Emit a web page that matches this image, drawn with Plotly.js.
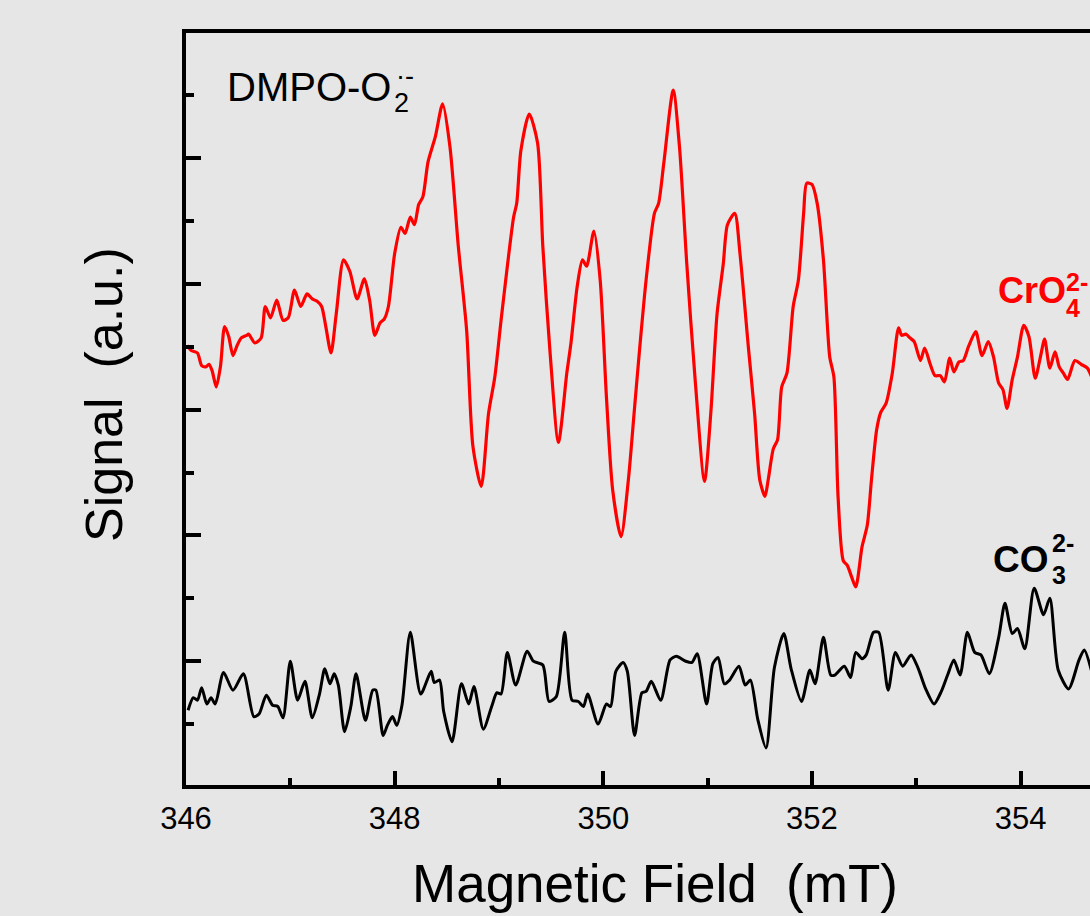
<!DOCTYPE html>
<html>
<head>
<meta charset="utf-8">
<script src="https://cdn.plot.ly/plotly-3.0.1.min.js"></script>
<style>
html,body{margin:0;padding:0;background:#e6e6e6;}
#chart{width:1090px;height:916px;}
</style>
</head>
<body>
<div id="chart"></div>
<script>
// Magnetic field (mT) and signal (a.u.)
const redX = [346.01,346.05,346.11,346.15,346.19,346.22,346.25,346.29,346.33,346.37,346.41,346.45,346.49,346.53,346.58,346.60,346.66,346.72,346.76,346.81,346.87,346.93,346.98,347.04,347.10,347.16,347.21,347.26,347.30,347.34,347.39,347.44,347.51,347.57,347.64,347.71,347.76,347.81,347.86,347.90,347.94,348.00,348.06,348.10,348.15,348.19,348.23,348.27,348.32,348.39,348.46,348.53,348.61,348.69,348.75,348.83,
348.90,348.96,349.02,349.14,349.17,349.21,349.29,349.37,349.42,349.49,349.57,349.65,349.69,349.75,349.80,349.84,349.91,349.97,350.03,350.09,350.17,350.24,350.30,350.35,350.41,350.49,350.53,350.58,350.67,350.73,350.80,350.88,350.97,351.03,351.09,351.15,351.19,351.26,351.31,351.39,351.45,351.50,351.55,
351.58,351.63,351.67,351.71,351.76,351.82,351.87,351.92,351.95,352.00,352.05,352.11,352.17,352.21,352.25,352.30,352.34,352.38,352.42,352.48,352.53,352.57,352.62,352.66,352.71,352.77,352.83,352.86,352.90,352.94,352.98,353.04,353.08,353.13,353.18,353.23,353.27,353.32,353.36,353.41,353.45,353.50,353.57,353.63,353.69,353.74,353.79,353.83,353.87,353.92,353.97,354.03,354.08,354.14,354.19,354.23,354.28,354.33,354.37,354.41,354.45,354.52,354.58,354.64,354.69];
const redY = [3.51,3.47,3.45,3.35,3.34,3.36,3.31,3.18,3.34,3.66,3.58,3.43,3.51,3.57,3.59,3.60,3.53,3.57,3.82,3.73,3.87,3.71,3.73,3.95,3.82,3.92,3.88,3.86,3.82,3.66,3.45,3.76,4.19,4.10,3.88,4.04,3.87,3.59,3.69,3.72,3.82,4.24,4.45,4.40,4.53,4.47,4.63,4.69,4.97,5.17,5.43,5.09,4.30,3.63,2.71,2.39,
2.97,3.26,3.71,4.53,4.64,5.06,5.35,5.12,4.30,3.45,2.74,3.29,3.53,3.98,4.19,4.14,4.42,4.03,3.10,2.36,1.99,2.44,3.02,3.50,4.03,4.56,4.64,4.96,5.54,5.09,4.16,3.24,2.43,2.97,3.76,4.16,4.47,4.56,4.24,3.50,2.97,2.44,2.31,
2.44,2.69,2.76,3.18,3.29,3.82,4.03,4.56,4.80,4.79,4.64,4.19,3.42,3.26,2.31,1.80,1.76,1.67,1.59,1.91,2.08,2.44,2.84,2.98,3.05,3.29,3.65,3.59,3.60,3.57,3.54,3.39,3.49,3.37,3.27,3.27,3.22,3.41,3.30,3.38,3.39,3.50,3.62,3.43,3.54,3.42,3.21,3.16,3.01,3.24,3.42,3.67,3.58,3.25,3.42,3.56,3.33,3.46,3.34,3.29,3.24,3.39,3.36,3.33,3.24];

const blackX = [346.02,346.07,346.11,346.15,346.20,346.24,346.28,346.36,346.45,346.55,346.65,346.70,346.77,346.83,346.88,346.93,347.00,347.07,347.14,347.21,347.28,347.33,347.38,347.42,347.46,347.52,347.58,347.63,347.72,347.79,347.82,347.89,347.93,347.98,348.02,348.07,348.15,348.25,348.35,348.38,348.43,348.47,348.55,348.64,348.71,348.76,348.85,348.93,348.98,349.02,349.08,349.16,349.27,349.33,349.42,349.48,349.55,349.63,349.70,349.76,349.81,349.85,349.95,350.03,350.07,350.12,350.19,350.23,350.30,350.37,350.41,350.46,350.55,350.64,350.70,350.79,350.85,350.90,350.99,351.05,351.10,351.16,351.21,351.30,351.36,351.41,351.48,351.56,351.64,351.73,351.80,351.90,351.98,352.03,352.11,352.18,352.22,352.31,352.37,352.42,352.48,352.52,352.59,352.64,352.73,352.80,352.87,352.95,353.02,353.09,353.17,353.24,353.30,353.36,353.42,353.49,353.56,353.62,353.70,353.79,353.85,353.92,353.97,354.04,354.13,354.22,354.28,354.36,354.46,354.56,354.61,354.69];
const blackY = [0.61,0.71,0.69,0.79,0.66,0.71,0.66,0.91,0.77,0.90,0.56,0.58,0.73,0.65,0.64,0.55,1.00,0.69,0.84,0.55,0.74,0.94,0.82,0.90,0.81,0.44,0.64,0.90,0.53,0.77,0.77,0.41,0.49,0.56,0.49,0.65,1.23,0.74,0.92,0.83,0.85,0.60,0.36,0.82,0.66,0.80,0.46,0.64,0.75,0.74,1.07,0.81,1.08,1.00,0.97,0.68,0.72,1.23,0.69,0.68,0.64,0.74,0.50,0.66,0.64,0.92,0.99,0.92,0.41,0.75,0.76,0.84,0.69,1.01,1.04,1.00,0.99,1.06,0.66,0.98,1.03,0.82,0.85,0.96,0.81,0.85,0.54,0.31,0.95,1.22,0.94,0.68,0.93,0.82,1.19,0.89,0.89,0.96,0.87,1.07,1.02,1.05,1.23,1.23,0.77,1.07,0.96,1.05,0.94,0.78,0.66,0.76,0.89,1.01,0.89,1.23,1.07,1.05,0.90,1.19,1.46,1.22,1.26,1.10,1.58,1.37,1.50,0.93,0.78,1.01,1.09,0.89];

const xTickVals = [346, 348, 350, 352, 354];
const xTickText = ['346', '348', '350', '352', '354'];

const FONT = 'Liberation Sans, Arial, sans-serif';

const traces = [
  {x: redX, y: redY, type: 'scatter', mode: 'lines', name: 'CrO4',
   line: {color: '#ff0000', width: 3.2, shape: 'spline', smoothing: 0.7}, hoverinfo: 'skip'},
  {x: blackX, y: blackY, type: 'scatter', mode: 'lines', name: 'CO3',
   line: {color: '#000000', width: 3, shape: 'spline', smoothing: 0.7}, hoverinfo: 'skip'}
];

function ann(text, x, y, size, color, bold, xanchor, angle) {
  return {text: text, xref: 'paper', yref: 'paper', x: x, y: y,
    xanchor: xanchor || 'left', yanchor: 'middle', showarrow: false,
    borderpad: 0, borderwidth: 0, textangle: angle || 0,
    font: {family: FONT, size: size, color: color, weight: bold ? 'bold' : 'normal'}};
}

const layout = {
  width: 1090, height: 916,
  margin: {l: 186, r: 0, t: 33, b: 131, pad: 0},
  paper_bgcolor: '#e6e6e6', plot_bgcolor: '#e6e6e6',
  showlegend: false,
  font: {family: FONT, color: '#000'},
  xaxis: {
    range: [346, 354.665], showgrid: false, zeroline: false,
    showline: true, linecolor: '#000', linewidth: 4, mirror: true,
    ticks: 'inside', ticklen: 14, tickwidth: 4, tickcolor: '#000',
    tickmode: 'array', tickvals: xTickVals, ticktext: xTickText,
    tickfont: {family: FONT, size: 31, color: '#000'}, ticklabelstandoff: 3,
    minor: {ticks: 'inside', ticklen: 7, tickwidth: 4, tickcolor: '#000', dtick: 1, tick0: 346, showgrid: false}
  },
  yaxis: {
    range: [0.016, 5.994], showgrid: false, zeroline: false,
    showline: true, linecolor: '#000', linewidth: 4, mirror: false,
    ticks: 'inside', ticklen: 15, tickwidth: 4, tickcolor: '#000',
    dtick: 1, tick0: 0, showticklabels: false,
    minor: {ticks: 'inside', ticklen: 8, tickwidth: 4, tickcolor: '#000', dtick: 0.5, tick0: 0, showgrid: false}
  },
  annotations: [
    ann('Magnetic Field\u00a0 (mT)', 0.5188, -0.1316, 53, '#000', false, 'center'),
    ann('Signal\u00a0 (a.u.)', -0.0907, 0.5186, 52, '#000', false, 'center', -90),
    ann('DMPO-O', 0.0454, 0.9282, 40, '#000', false),
    ann('2', 0.2301, 0.9069, 27, '#000', false),
    ann('·-', 0.2323, 0.9428, 27, '#000', false),
    ann('CrO', 0.8982, 0.6582, 36, '#ff0000', true),
    ann('4', 0.9735, 0.6343, 25, '#ff0000', true),
    ann('2-', 0.9735, 0.6689, 25, '#ff0000', true),
    ann('CO', 0.8927, 0.3005, 37, '#000', true),
    ann('3', 0.9580, 0.2793, 25, '#000', true),
    ann('2-', 0.9580, 0.3218, 25, '#000', true)
  ]
};

Plotly.newPlot('chart', traces, layout, {displayModeBar: false, staticPlot: true});
</script>
</body>
</html>
